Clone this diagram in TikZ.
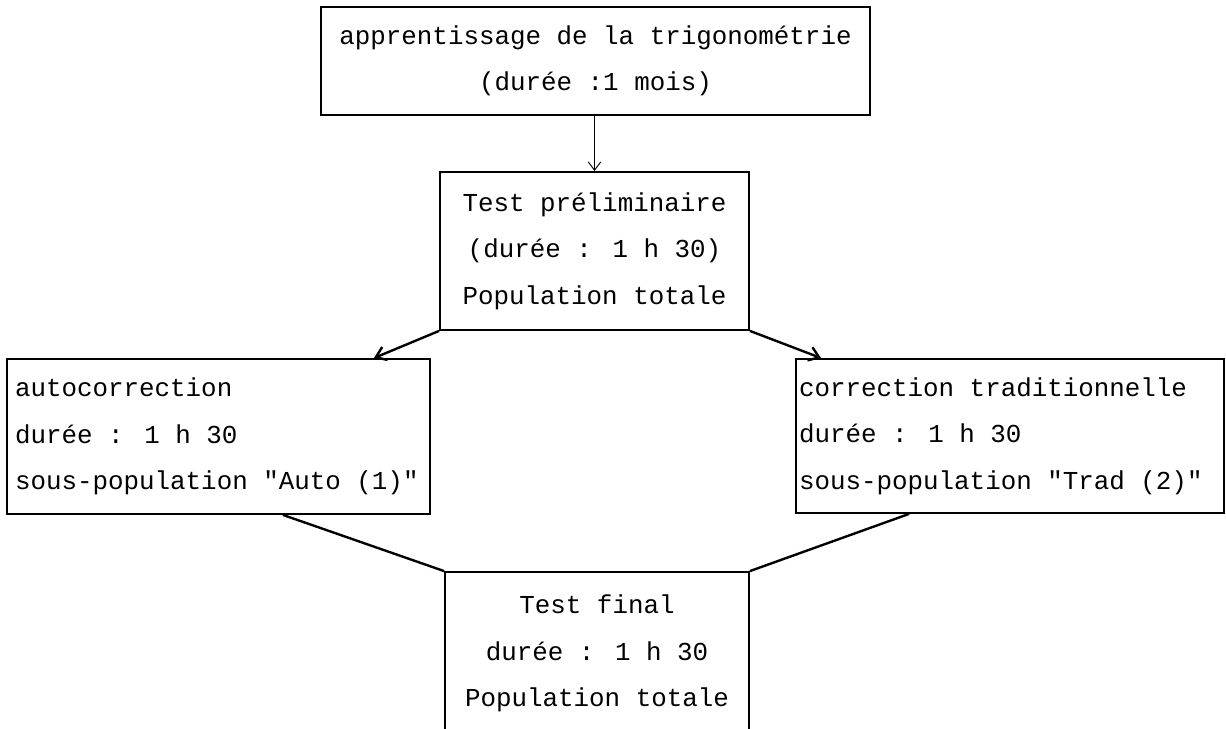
\documentclass[tikz,border=0pt]{standalone}
\usepackage{fontspec}
\usetikzlibrary{arrows.meta}
\newfontfamily\typewriter[WordSpace={1,0,0}]{Liberation Mono}
\tikzset{
  box/.style={draw, line width=1.3pt, rectangle, inner ysep=0pt,
    font=\typewriter\fontsize{18.4}{33}\selectfont},
  flow/.style={line width=1.7pt, -{Straight Barb[length=7pt,width=10pt]}},
  link/.style={line width=1.7pt}
}
\begin{document}
\begin{tikzpicture}
  % Page
  \clip (0,0) rectangle (30.65,18.225);

  % Boxes
  \node[box, minimum width=13.725cm, minimum height=2.7cm, align=center]
    (learn) at (14.8875,16.7) {apprentissage de la trigonométrie\\(durée :1 mois)};
  \node[box, minimum width=7.725cm, minimum height=3.95cm, align=center]
    (pretest) at (14.8625,11.95) {Test préliminaire\\(durée : 1 h 30)\\Population totale};
  \node[box, minimum width=10.575cm, minimum height=3.875cm, inner xsep=0.2cm,
    text width=10.175cm, align=flush left]
    (auto) at (5.4625,7.3125) {autocorrection\\durée : 1 h 30\\sous-population "Auto (1)"};
  \node[box, minimum width=10.7cm, minimum height=3.85cm, inner xsep=0.075cm,
    text width=10.55cm, align=flush left]
    (trad) at (25.25,7.325) {correction traditionnelle\\durée : 1 h 30\\sous-population "Trad (2)"};
  \node[box, minimum width=7.6cm, minimum height=4.075cm, align=center]
    (final) at (14.925,1.8875) {Test final\\durée : 1 h 30\\Population totale};

  % Arrows
  \draw[line width=0.7pt, -{Straight Barb[length=6pt,width=9pt]}]
    (learn.south -| pretest.north) -- (pretest.north);
  \draw[flow] (pretest.south west) -- ([xshift=-1.425cm]auto.north east);
  \draw[flow] (pretest.south east) -- ([xshift=0.65cm]trad.north west);

  % Lines to the final test
  \draw[link] ([xshift=-3.7cm]auto.south east) -- (final.north west);
  \draw[link] ([xshift=2.85cm]trad.south west) -- (final.north east);

\end{tikzpicture}
\end{document}
